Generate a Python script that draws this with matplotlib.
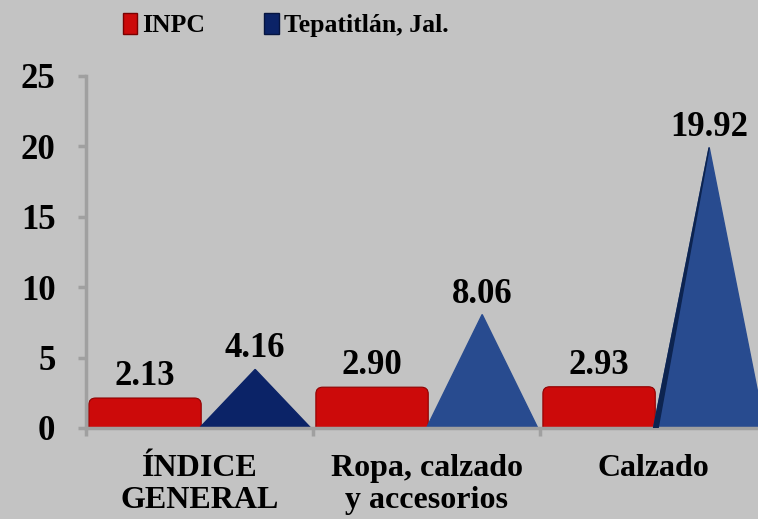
import numpy as np
import matplotlib.pyplot as plt
from matplotlib.patches import FancyBboxPatch, Patch

# DATA
categories = ['ÍNDICE\nGENERAL', 'Ropa, calzado\ny accesorios', 'Calzado']
inpc = [2.13, 2.90, 2.93]
tepa = [4.16, 8.06, 19.92]
series_names = ['INPC', 'Tepatitlán, Jal.']
yticks = [0, 5, 10, 15, 20, 25]

plt.rcParams['font.family'] = ['Liberation Serif', 'DejaVu Serif']
plt.rcParams['font.weight'] = 'bold'

bg = '#c3c3c3'
red = '#cc0a0a'
blue_dark = '#0b2367'
blue = '#284b8f'
grey = '#a0a0a0'

fig = plt.figure(figsize=(7.58, 5.19), dpi=100)
fig.patch.set_facecolor(bg)
ax = fig.add_axes([86/758, 91/519, 672/758, 352/519])
ax.set_facecolor(bg)

x = np.arange(len(categories))
w = 0.495

# red bars (rounded tops)
bars = ax.bar(x - 0.24, inpc, w, color=red)
for b in bars:
    b.set_visible(False)
    box = FancyBboxPatch((b.get_x(), -1), b.get_width(), b.get_height() + 1,
                         boxstyle='round,pad=0,rounding_size=0.03',
                         mutation_aspect=16, facecolor=red,
                         edgecolor='#8f0000', linewidth=0.8)
    ax.add_patch(box)
    ax.text(b.get_x() + b.get_width() / 2, b.get_height() + 0.9,
            f'{b.get_height():.2f}', ha='center', va='baseline',
            fontsize=25, fontweight='bold')

# blue triangles
for i, v in enumerate(tepa):
    left, right = x[i], x[i] + 0.49
    apex = x[i] + 0.245
    col = blue_dark if i == 0 else blue
    ax.fill([left, apex, right], [0, v, 0], color=col, zorder=2)
    if i == 2:
        ax.fill([left, apex, left + 0.02], [0, v, 0], color='#0d2450', zorder=3)
    ax.text(apex, v + 0.85, f'{v:.2f}', ha='center', va='baseline',
            fontsize=25, fontweight='bold')

ax.set_xlim(-0.5, 2.46)
ax.set_ylim(0, 25)
ax.set_yticks(yticks)
ax.set_yticklabels([str(t) for t in yticks], fontsize=25, fontweight='bold')
ax.set_xticks(x)
ax.set_xticklabels(categories, fontsize=23, fontweight='bold', linespacing=1.1)
ax.tick_params(axis='x', length=0, pad=19)
ax.set_xticks([-0.5, 0.5, 1.5], minor=True)
ax.tick_params(axis='x', which='minor', length=6, width=2.5, color=grey)
ax.tick_params(axis='y', length=6, width=2.5, color=grey, pad=16)

for s in ['top', 'right']:
    ax.spines[s].set_visible(False)
for s in ['left', 'bottom']:
    ax.spines[s].set_color(grey)
    ax.spines[s].set_linewidth(2.5)

handles = [Patch(facecolor=red, edgecolor='#7a0000'),
           Patch(facecolor=blue_dark, edgecolor='#061540')]
fig.legend(handles, series_names, loc='center', bbox_to_anchor=(0.377, 0.952),
           ncol=2, frameon=False, handlelength=0.55, handleheight=0.9,
           handletextpad=0.2, columnspacing=2.3,
           prop={'size': 18.5, 'weight': 'bold'})

fig.savefig('out.png', dpi=100, facecolor=bg)
